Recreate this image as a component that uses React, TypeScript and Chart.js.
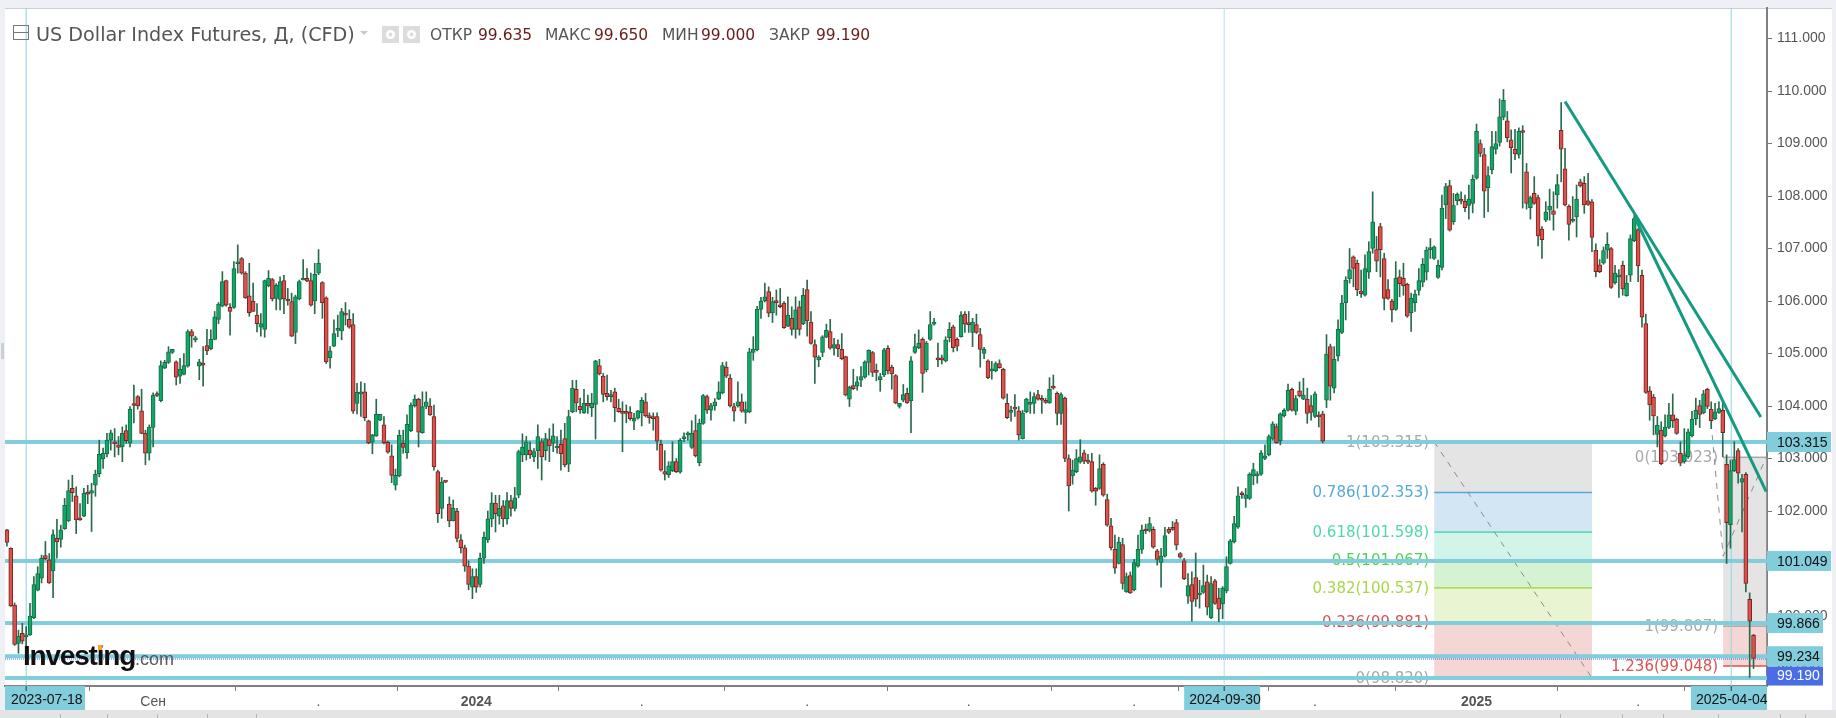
import React, { useEffect, useRef } from "react";
import { Chart, registerables } from "chart.js";

Chart.register(...registerables);

const opens = [
101.64,101.29,100.21,99.48,99.67,99.60,99.64,99.97,100.49,100.72,
101.15,101.07,100.86,101.48,101.46,101.66,101.81,102.43,102.29,101.85,
101.90,102.36,102.34,102.49,102.71,102.99,103.09,103.35,103.31,103.26,
103.22,103.53,103.29,104.03,104.18,103.91,103.48,103.10,103.59,104.23,
104.10,104.72,104.83,105.02,104.84,104.57,104.60,104.76,105.42,105.26,
104.76,104.79,105.15,105.09,105.27,105.65,105.90,106.39,105.88,105.88,
106.71,106.81,106.53,106.10,106.00,105.73,105.50,105.46,106.29,106.41,
106.05,106.03,106.39,106.03,105.99,105.40,106.04,106.40,106.43,106.39,
106.00,106.53,106.35,106.06,104.92,105.14,105.44,105.43,105.76,105.65,
105.55,104.05,104.23,104.27,103.72,103.31,103.43,103.73,103.64,103.31,
103.05,102.49,102.67,103.29,103.11,103.53,104.00,104.13,103.49,103.99,
104.00,103.80,102.75,102.05,102.56,102.13,101.81,102.00,101.45,101.30,
100.95,100.55,100.75,100.60,101.10,101.45,101.85,102.15,101.90,102.10,
101.85,102.20,102.05,102.30,103.07,103.07,103.16,103.03,103.15,103.32,
103.15,103.36,103.29,103.20,103.27,103.38,102.89,103.89,104.32,104.00,
103.87,104.05,103.97,104.03,104.77,104.57,104.24,104.18,104.27,103.96,
103.88,103.88,103.88,103.71,103.77,103.87,104.08,103.80,103.80,103.80,
103.27,102.75,102.69,102.77,102.94,102.74,103.38,103.45,103.21,103.53,
102.92,103.67,104.18,103.92,104.00,104.13,104.25,104.74,104.53,103.99,
104.00,104.08,103.88,103.89,105.02,105.07,105.84,106.00,106.18,105.78,
106.00,105.92,105.96,105.52,105.67,105.46,105.89,105.57,106.22,105.60,
105.17,104.88,105.02,105.31,105.42,105.10,105.17,105.08,104.94,104.13,
104.39,104.38,104.49,104.55,104.83,105.02,104.65,104.50,104.59,105.10,
104.74,104.58,103.99,104.11,104.24,104.10,105.02,105.11,105.27,104.69,
105.27,105.56,104.90,104.89,104.86,105.30,105.51,105.27,105.32,105.75,
105.57,105.40,105.55,105.36,105.00,104.86,104.67,104.67,104.81,104.70,
104.05,103.88,103.95,103.91,103.38,103.89,104.03,104.05,104.22,104.12,
104.10,104.06,104.37,104.24,103.86,104.15,103.00,102.67,102.75,102.93,
103.11,102.96,102.94,102.43,102.43,102.89,102.22,101.72,101.27,101.00,
101.36,100.46,100.77,100.50,100.95,101.27,101.65,101.63,101.65,101.24,
101.02,101.14,101.65,101.67,101.78,101.19,101.05,100.38,100.60,100.73,
100.40,100.45,100.65,99.97,100.67,100.34,100.23,100.48,101.00,101.41,
101.69,102.32,102.24,102.24,102.67,102.67,102.70,103.00,103.07,103.37,
103.61,103.34,103.81,103.92,104.32,103.90,104.29,104.13,104.13,104.01,
103.80,103.81,103.85,104.11,105.13,104.34,104.95,105.40,105.97,106.42,
106.84,106.72,106.19,106.11,106.55,107.00,106.98,107.42,106.81,106.22,
106.00,105.84,106.46,106.43,106.32,105.78,105.97,106.20,106.36,106.55,
106.98,106.81,106.45,106.64,107.83,108.20,107.51,107.91,107.94,107.90,
107.82,107.86,108.34,109.00,108.79,108.16,108.50,108.89,109.02,109.50,
109.43,109.07,108.89,108.79,109.24,108.46,107.78,108.05,107.97,107.37,
107.54,107.73,107.72,108.02,109.25,108.52,107.81,107.52,107.60,108.27,
108.24,107.91,107.89,106.97,106.69,106.72,106.97,107.00,106.35,106.46,
106.68,106.10,106.49,107.15,107.36,106.49,105.57,104.29,104.17,103.46,
103.54,103.43,103.59,103.83,103.75,103.10,102.94,103.03,103.43,103.76,
104.01,103.87,104.32,103.94,103.76,103.88,103.92,102.89,101.74,102.77,
103.15,102.55,102.70,100.32,99.635,
];

const closes = [
101.40,100.19,99.46,99.62,99.52,99.64,100.00,100.60,100.81,101.10,
101.09,100.63,101.55,101.41,101.64,102.11,102.39,102.35,101.83,101.83,
102.34,102.32,102.39,102.70,103.08,103.10,103.35,103.49,103.28,103.21,
103.48,103.34,103.94,104.01,104.00,103.48,103.10,103.60,104.21,104.20,
104.77,104.83,105.03,105.08,104.55,104.70,104.77,105.42,105.33,105.30,
104.84,104.78,105.05,105.27,105.70,105.94,106.37,105.92,105.80,106.62,
106.72,106.53,106.06,105.78,105.80,105.57,105.57,106.39,106.43,106.04,
106.30,106.37,106.04,106.00,105.33,106.08,106.37,106.42,106.38,105.92,
106.51,106.72,105.97,104.84,105.05,105.38,105.46,105.80,105.73,105.50,
103.90,104.26,104.25,103.78,103.30,103.45,103.84,103.84,103.30,103.12,
102.68,102.68,103.44,103.21,103.65,104.02,104.13,103.50,103.99,104.08,
103.83,102.84,101.95,102.55,102.55,101.81,102.05,101.48,101.30,100.95,
100.60,100.75,100.55,101.10,101.50,101.85,102.15,101.95,102.05,101.85,
102.20,102.05,102.25,103.13,103.22,103.32,103.07,103.13,103.42,103.03,
103.38,103.24,103.43,103.22,103.09,102.88,103.80,104.34,104.06,103.93,
104.05,104.00,104.05,104.86,104.61,104.22,104.18,104.20,103.97,103.89,
103.86,103.86,103.76,103.77,103.91,104.11,103.81,103.78,103.76,103.33,
102.78,102.70,102.86,102.94,102.75,103.35,103.41,103.46,103.48,103.05,
103.67,104.20,103.92,104.01,104.08,104.27,104.77,104.57,104.00,103.90,
104.08,103.90,103.93,105.03,105.08,105.84,106.00,106.08,105.77,105.99,
105.97,105.89,105.49,105.73,105.46,105.83,105.46,106.11,105.62,105.19,
104.93,104.93,105.32,105.44,105.10,105.17,105.09,104.90,104.21,104.36,
104.33,104.46,104.56,104.84,105.06,104.64,104.64,104.56,105.07,104.67,
104.61,104.06,104.05,104.22,104.06,104.86,105.13,105.20,104.62,105.20,
105.55,105.58,104.88,104.88,105.26,105.46,105.11,105.14,105.73,105.56,
105.55,105.60,105.40,105.08,105.08,104.54,104.68,104.81,104.73,104.15,
103.78,103.89,103.94,103.45,103.87,104.13,104.05,104.18,104.13,104.11,
104.07,104.32,104.34,103.86,104.22,103.00,102.48,102.78,103.00,103.03,
102.95,102.93,102.38,102.38,102.81,102.30,101.73,101.30,100.91,101.41,
100.62,100.75,100.44,101.02,101.27,101.63,101.62,101.76,101.31,101.08,
101.14,101.53,101.59,101.65,101.35,101.12,100.71,100.58,100.28,100.32,
100.43,100.58,100.17,100.62,100.24,100.13,100.53,100.94,101.43,101.76,
102.29,102.31,102.31,102.70,102.79,102.69,103.11,103.05,103.42,103.66,
103.30,103.85,103.92,104.30,103.92,104.14,104.19,104.21,103.86,103.88,
104.23,103.79,103.33,104.99,104.38,104.89,105.46,105.96,106.40,106.60,
106.62,106.21,106.14,106.62,106.94,107.51,106.76,106.98,106.05,106.05,
105.83,106.43,106.33,106.29,105.71,106.05,106.13,106.39,106.70,106.97,
107.00,107.03,106.68,107.77,108.18,107.35,107.82,108.03,107.90,107.78,
107.94,108.32,109.23,108.81,108.09,108.39,108.94,109.00,109.51,109.82,
109.11,108.92,108.80,109.23,109.21,107.86,107.97,107.86,107.24,107.17,
107.70,107.81,107.65,108.22,108.89,107.83,107.46,107.55,107.94,108.19,
107.83,107.84,107.21,106.56,106.56,106.96,107.08,106.26,106.53,106.50,
106.23,106.34,107.19,107.57,106.67,105.69,104.26,104.02,103.81,103.63,
102.90,103.60,103.83,103.72,103.48,102.91,103.07,103.51,103.75,103.92,
103.84,104.23,103.99,103.72,103.89,103.95,103.49,101.78,102.77,102.98,
102.72,102.62,100.62,99.90,99.19,
];

const highs = [
101.65,101.30,100.25,99.73,99.86,99.80,100.24,100.75,100.94,101.16,
101.42,101.19,101.64,101.84,101.73,102.24,102.59,102.68,102.46,102.14,
102.43,102.49,102.53,102.78,103.35,103.20,103.48,103.54,103.57,103.42,
103.60,103.64,103.99,104.40,104.20,104.32,103.54,103.64,104.25,104.27,
104.86,104.87,105.13,105.08,104.86,104.91,105.00,105.45,105.46,105.33,
104.89,105.13,105.46,105.45,105.80,105.97,106.56,106.40,105.95,106.75,
107.07,106.83,106.56,106.72,106.34,105.95,105.76,106.40,106.58,106.43,
106.33,106.46,106.49,106.24,106.15,106.11,106.40,106.79,106.62,106.53,
106.72,106.98,106.37,106.08,105.13,105.64,105.73,105.86,105.97,105.83,
105.76,104.43,104.46,104.43,103.73,103.46,104.13,103.84,103.80,103.33,
103.26,102.80,103.54,103.54,103.83,104.06,104.21,104.15,104.27,104.27,
104.14,104.02,102.78,102.64,102.57,102.27,102.21,102.05,101.55,101.35,
101.05,100.90,100.90,101.20,101.60,102.00,102.35,102.30,102.30,102.20,
102.35,102.30,102.45,103.16,103.47,103.42,103.32,103.19,103.64,103.38,
103.48,103.57,103.66,103.42,103.54,103.67,103.92,104.49,104.49,104.15,
104.32,104.21,104.24,104.87,104.89,104.62,104.59,104.30,104.34,104.13,
104.08,104.02,103.99,103.86,103.92,104.16,104.24,103.87,103.87,103.87,
103.35,103.15,102.94,103.32,103.00,103.38,103.49,103.51,103.72,103.83,
103.75,104.22,104.21,104.05,104.14,104.46,104.83,104.84,104.60,104.05,
104.46,104.23,104.08,105.10,105.32,105.90,106.07,106.34,106.27,106.07,
106.21,106.24,105.99,106.08,105.89,106.08,106.00,106.24,106.40,105.80,
105.26,104.96,105.34,105.56,105.65,105.29,105.26,105.38,104.95,104.38,
104.70,104.56,104.75,104.86,105.07,105.04,104.80,104.62,105.10,105.15,
104.78,104.60,104.02,104.41,104.34,104.94,105.37,105.45,105.30,105.23,
105.80,105.67,105.20,104.97,105.32,105.59,105.54,105.30,105.80,105.80,
105.80,105.67,105.75,105.48,105.12,104.88,104.85,104.84,104.88,104.72,
104.23,104.00,104.22,103.99,103.92,104.15,104.27,104.25,104.30,104.20,
104.15,104.54,104.59,104.27,104.25,104.17,103.07,102.97,103.17,103.36,
103.16,103.08,103.10,102.45,103.07,102.92,102.32,101.86,101.54,101.50,
101.48,100.82,100.84,101.08,101.54,101.73,101.75,101.88,101.70,101.27,
101.29,101.69,101.69,101.80,101.84,101.21,101.10,100.81,100.84,101.20,
100.68,100.97,100.78,100.75,100.70,100.53,100.56,101.13,101.46,101.90,
102.46,102.37,102.43,102.73,102.91,102.75,103.15,103.26,103.45,103.70,
103.66,103.87,103.95,104.42,104.34,104.20,104.46,104.53,104.34,104.20,
104.27,103.89,103.90,105.36,105.18,105.13,105.64,106.11,106.46,107.00,
106.86,106.78,106.59,106.88,107.13,108.08,107.23,107.48,106.91,106.41,
106.03,106.75,106.59,106.72,106.34,106.15,106.21,106.62,106.81,107.03,
107.19,107.05,106.78,108.02,108.24,108.30,108.05,108.06,108.08,108.02,
108.21,108.40,109.37,109.07,108.91,108.56,109.23,109.23,109.85,110.03,
109.61,109.26,109.27,109.30,109.34,108.62,108.00,108.37,108.02,107.42,
107.89,108.13,108.08,108.41,109.78,108.91,107.83,107.99,108.21,108.32,
108.37,108.43,107.93,107.09,106.79,107.03,107.30,107.02,106.68,106.60,
106.76,106.49,107.26,107.64,107.38,106.59,105.75,104.37,104.22,103.80,
103.70,103.83,104.05,104.23,103.77,103.32,103.57,103.56,103.90,104.15,
104.11,104.30,104.34,104.08,104.05,104.08,104.06,103.07,102.97,103.32,
103.19,102.70,102.73,100.44,99.65,
];

const lows = [
101.33,100.18,99.44,99.29,99.47,99.41,99.63,99.95,100.48,100.63,
101.07,100.62,100.35,101.10,101.31,101.65,101.80,102.18,101.57,101.82,
101.89,102.14,101.61,102.28,102.65,102.81,103.03,103.16,103.03,103.07,
102.94,103.29,103.22,103.68,103.94,103.47,102.88,102.97,103.22,104.18,
104.08,104.71,104.81,105.00,104.40,104.43,104.59,104.74,105.12,105.22,
104.50,104.38,104.98,105.07,105.26,105.57,105.89,105.90,105.35,105.86,
106.53,106.51,106.05,105.71,105.80,105.41,105.33,105.31,106.27,106.00,
105.83,105.83,105.76,105.92,105.32,105.19,106.02,106.40,106.37,105.90,
105.76,106.50,105.67,104.81,104.72,105.13,105.32,105.26,105.54,105.48,
103.86,103.85,103.80,103.72,103.28,103.09,103.42,103.72,103.28,103.10,
102.54,102.40,102.65,103.10,103.00,103.51,103.98,103.22,103.48,103.95,
103.82,102.78,101.78,101.86,102.54,101.70,102.04,101.41,101.20,100.85,
100.50,100.33,100.45,100.55,101.00,101.40,101.70,101.60,101.75,101.70,
101.75,101.90,102.00,102.25,102.94,102.97,103.00,102.94,102.81,102.59,
102.97,102.94,103.13,103.10,102.78,102.84,102.75,103.87,103.89,103.86,
103.86,103.86,103.80,103.37,104.59,104.08,104.11,104.08,103.70,103.88,
103.13,103.68,103.73,103.55,103.75,103.62,103.79,103.67,103.54,103.16,
102.76,102.59,102.64,102.75,102.73,102.72,103.32,103.35,103.19,103.03,
102.86,103.65,103.86,103.73,103.92,104.12,104.23,104.54,103.98,103.71,
103.98,103.88,103.67,103.87,104.87,105.05,105.67,105.98,105.70,105.59,
105.73,105.87,105.48,105.51,105.35,105.29,105.35,105.55,105.33,105.18,
104.43,104.75,104.94,105.30,105.08,104.97,104.94,104.88,104.19,103.99,
104.31,104.30,104.37,104.53,104.59,104.56,104.48,104.28,104.56,104.61,
104.32,104.04,103.96,104.08,104.05,103.49,105.00,105.09,104.26,104.65,
105.25,105.54,104.75,104.80,104.84,105.22,105.03,105.05,105.31,105.40,
105.40,105.13,105.38,104.74,104.90,104.52,104.51,104.65,104.72,104.13,
103.76,103.71,103.80,103.35,103.37,103.87,103.86,103.86,104.11,103.86,
104.05,104.05,104.32,103.64,103.65,102.94,102.00,102.51,102.73,102.91,
102.90,102.90,102.36,102.11,102.41,102.28,101.71,101.26,100.81,100.99,
100.51,100.45,100.43,100.48,100.93,101.19,101.57,101.60,101.29,100.97,
100.55,101.12,101.57,101.63,101.26,101.10,100.69,100.24,99.90,100.18,
100.15,100.43,100.02,99.95,100.22,99.89,99.95,100.44,100.99,101.39,
101.67,102.24,102.07,102.22,102.50,102.53,102.68,102.98,103.05,103.35,
103.29,103.26,103.79,103.90,103.90,103.83,104.17,104.12,103.67,103.73,
103.78,103.60,103.30,103.97,104.11,104.25,104.86,105.38,105.64,106.34,
106.27,106.10,106.07,106.09,106.43,106.91,106.56,106.46,105.83,106.03,
105.60,105.82,106.08,106.11,105.69,105.42,105.80,106.11,106.27,106.40,
106.81,106.79,106.43,106.59,107.57,107.33,107.46,107.83,107.85,107.70,
107.56,107.68,108.32,108.75,107.59,107.70,108.42,108.80,108.95,109.45,
109.03,108.44,108.69,108.72,107.77,107.75,107.56,107.84,107.05,106.81,
107.51,107.54,107.35,107.77,108.27,107.81,107.16,107.50,107.22,108.17,
107.67,107.82,106.94,106.46,106.54,106.70,106.81,106.24,106.32,106.07,
106.11,106.09,106.37,107.13,106.37,105.50,104.24,103.73,103.45,103.22,
102.88,103.41,103.57,103.59,103.46,102.86,102.91,103.00,103.41,103.64,
103.59,103.85,103.95,103.57,103.74,103.86,103.03,101.00,101.29,102.75,
102.53,101.60,100.46,98.83,99.00,
];

const SLOTS = 458;
const slotLabels = Array.from({ length: SLOTS }, (_, i) => String(i));

const tickSlots = [5, 38, 81, 122, 165, 208, 250, 293, 316, 340, 382, 424, 448];
const tickTexts = ["", "Сен", ".", "2024", ".", ".", ".", ".", "", ".", "2025", ".", ""];
const boldTickTexts = ["2024", "2025"];

const crossSlots = [5, 316.4, 448.2];
const crossDates = ["2023-07-18", "2024-09-30", "2025-04-04"];
const crossColors = ["#86d3df", "#b0e3ea", "#8ed6e2"];

const levelValues = [103.315, 101.049, 99.866, 99.234, 98.82];
const levelTags = ["103.315", "101.049", "99.866", "99.234", ""];
const lastPrice = 99.19;

const fibAValues = [103.315, 102.353, 101.598, 101.067, 100.537, 99.881, 98.82];
const fibALabels = ["1(103.315)", "0.786(102.353)", "0.618(101.598)", "0.5(101.067)", "0.382(100.537)", "0.236(99.881)", "0(98.820)"];
const fibAColors = ["#a8a8a8", "#57a9dc", "#4fd8ae", "#4fd24f", "#a6d84c", "#d9534f", "#a8a8a8"];
const fibAFills = ["#e4e4e4", "#d2e6f3", "#d3f4e8", "#d5f3d3", "#e9f4d2", "#f4d6d4"];
const fibASlots = [371, 412];
const fibBValues = [103.023, 99.807, 99.048];
const fibBLabels = ["0(103.023)", "1(99.807)", "1.236(99.048)"];
const fibBColors = ["#a8a8a8", "#a8a8a8", "#d9534f"];
const fibBFills = ["#e4e4e4", "#f4d6d4"];
const fibBSlots = [446.1, 457.3];

const trendSlotsA = [405.0, 455.9];
const trendValuesA = [109.8, 103.79];
const trendSlotsB = [423.1, 457.3];
const trendValuesB = [107.6, 102.37];
const dashSlotsA = [371, 412];
const dashValuesA = [103.315, 98.82];
const dashSlotsB = [442.7, 446.1, 457.3];
const dashValuesB = [103.9, 101.14, 103.023];

const UI = '"Liberation Sans", Arial, sans-serif';
const FIB = '"DejaVu Sans", sans-serif';

const paint = {
  id: "paint",
  beforeDraw(c: any) {
    const g = c.ctx;
    g.save();
    g.fillStyle = "#ffffff";
    g.fillRect(0, 0, 1836, 718);
    g.fillStyle = "#eff0f6";
    g.fillRect(0, 0, 1836, 8);
    g.fillRect(0, 0, 5, 718);
    g.fillRect(1832, 0, 4, 718);
    g.fillStyle = "#ccced6";
    g.fillRect(5, 8, 1827, 1);
    g.fillRect(1, 343, 3, 16);
    g.fillStyle = "#e4e4e4";
    g.fillRect(0, 710, 1836, 8);
    g.fillStyle = "#b8b8b8";
    [60, 107, 157, 207, 256, 1560, 1622, 1663, 1718, 1780, 1805].forEach((x) => g.fillRect(x, 714, 1, 4));
    g.restore();
  },
  beforeDatasetsDraw(c: any) {
    const g = c.ctx;
    const x = c.scales.x;
    const y = c.scales.y;
    const a = c.chartArea;
    g.save();

    const xa0 = x.getPixelForValue(fibASlots[0]);
    const xa1 = x.getPixelForValue(fibASlots[1]);
    fibAFills.forEach((f, i) => {
      const t = y.getPixelForValue(fibAValues[i]);
      const b = y.getPixelForValue(fibAValues[i + 1]);
      g.fillStyle = f;
      g.fillRect(xa0, t, xa1 - xa0, b - t);
    });
    fibAValues.forEach((v, i) => {
      const p = y.getPixelForValue(v);
      g.fillStyle = fibAColors[i];
      g.fillRect(xa0, p - 0.75, xa1 - xa0, 1.5);
      g.font = `15px ${FIB}`;
      g.textAlign = "right";
      g.textBaseline = "middle";
      g.fillText(fibALabels[i], xa0 - 5, p + 1);
    });

    const xb0 = x.getPixelForValue(fibBSlots[0]);
    const xb1 = x.getPixelForValue(fibBSlots[1]);
    fibBFills.forEach((f, i) => {
      const t = y.getPixelForValue(fibBValues[i]);
      const b = y.getPixelForValue(fibBValues[i + 1]);
      g.fillStyle = f;
      g.fillRect(xb0, t, xb1 - xb0, b - t);
    });
    fibBValues.forEach((v, i) => {
      const p = y.getPixelForValue(v);
      g.fillStyle = fibBColors[i];
      g.fillRect(xb0, p - 0.75, xb1 - xb0, 1.5);
      g.font = `15px ${FIB}`;
      g.textAlign = "right";
      g.textBaseline = "middle";
      g.fillText(fibBLabels[i], xb0 - 5, p + 1);
    });

    const dash = (sl: number[], va: number[]) => {
      g.beginPath();
      sl.forEach((s, i) => {
        const px = x.getPixelForValue(s);
        const py = y.getPixelForValue(va[i]);
        if (i === 0) g.moveTo(px, py);
        else g.lineTo(px, py);
      });
      g.strokeStyle = "#8c8c8c";
      g.lineWidth = 1;
      g.setLineDash([6, 6]);
      g.stroke();
      g.setLineDash([]);
    };
    dash(dashSlotsA, dashValuesA);
    dash(dashSlotsB, dashValuesB);

    crossSlots.forEach((s, i) => {
      g.fillStyle = crossColors[i];
      g.fillRect(x.getPixelForValue(s) - 0.5, a.top, 1, a.bottom - a.top);
    });

    levelValues.forEach((v) => {
      g.fillStyle = "#82cddc";
      g.fillRect(a.left, y.getPixelForValue(v) - 2, a.right - a.left, 4);
    });

    const lp = y.getPixelForValue(lastPrice);
    g.strokeStyle = "#4a6de5";
    g.lineWidth = 1;
    g.setLineDash([1, 1]);
    g.beginPath();
    g.moveTo(a.left, lp + 0.5);
    g.lineTo(a.right, lp + 0.5);
    g.stroke();
    g.setLineDash([]);
    g.restore();
  },
  afterDraw(c: any) {
    const g = c.ctx;
    const x = c.scales.x;
    const y = c.scales.y;
    const a = c.chartArea;
    g.save();

    const trend = (sl: number[], va: number[]) => {
      g.beginPath();
      g.moveTo(x.getPixelForValue(sl[0]), y.getPixelForValue(va[0]));
      g.lineTo(x.getPixelForValue(sl[1]), y.getPixelForValue(va[1]));
      g.strokeStyle = "#149a80";
      g.lineWidth = 3;
      g.stroke();
    };
    trend(trendSlotsA, trendValuesA);
    trend(trendSlotsB, trendValuesB);

    g.font = `14px ${UI}`;
    g.textBaseline = "middle";
    levelValues.forEach((v, i) => {
      if (!levelTags[i]) return;
      const p = y.getPixelForValue(v);
      const w = i < 2 ? 64 : 56;
      g.fillStyle = "#82cddc";
      g.fillRect(a.right, p - 10, w, 20);
      g.fillStyle = "#111111";
      g.textAlign = "left";
      g.fillText(levelTags[i], a.right + 10, p + 1);
    });
    const lp = y.getPixelForValue(lastPrice);
    g.fillStyle = "#4a6de5";
    g.fillRect(a.right, lp + 8, 56, 19);
    g.fillStyle = "#ffffff";
    g.textAlign = "left";
    g.fillText(lastPrice.toFixed(3), a.right + 10, lp + 18);

    crossSlots.forEach((s, i) => {
      const px = x.getPixelForValue(s);
      const l = Math.max(a.left, Math.min(px - 40, a.right - 76));
      const w = i === 2 ? a.right - l : i === 0 ? 80 : 76;
      g.fillStyle = "#82cddc";
      g.fillRect(l, a.bottom, w, 24);
      g.fillStyle = "#333";
      g.fillRect(px - 0.5, a.bottom, 1, 5);
      g.fillStyle = "#111111";
      g.textAlign = "left";
      g.fillText(crossDates[i], i === 0 ? 11 : l + 5, a.bottom + 14);
    });

    g.textBaseline = "alphabetic";
    g.textAlign = "left";
    g.strokeStyle = "#777";
    g.lineWidth = 1;
    g.strokeRect(13.5, 25.5, 15, 14);
    g.beginPath();
    g.moveTo(14, 32.5);
    g.lineTo(28, 32.5);
    g.stroke();
    g.fillStyle = "#555555";
    g.font = `19.2px "DejaVu Sans", sans-serif`;
    g.fillText("US Dollar Index Futures, Д, (CFD)", 36, 41);
    g.fillStyle = "#c9c9c9";
    g.beginPath();
    g.moveTo(360, 31);
    g.lineTo(368, 31);
    g.lineTo(364, 35);
    g.fill();
    g.fillStyle = "#dcdcdc";
    g.fillRect(382, 26, 17, 17);
    g.fillRect(403, 26, 17, 17);
    g.fillStyle = "#ffffff";
    g.beginPath();
    g.arc(390.5, 34.5, 4.5, 0, Math.PI * 2);
    g.arc(411.5, 34.5, 4.5, 0, Math.PI * 2);
    g.fill();
    g.fillStyle = "#dcdcdc";
    g.beginPath();
    g.arc(390.5, 34.5, 2, 0, Math.PI * 2);
    g.arc(411.5, 34.5, 2, 0, Math.PI * 2);
    g.fill();

    g.font = `15.5px "DejaVu Sans", sans-serif`;
    const heads = [["ОТКР", "99.635", 430, 478], ["МАКС", "99.650", 545, 594], ["МИН", "99.000", 662, 701], ["ЗАКР", "99.190", 769, 816]];
    heads.forEach((h: any) => {
      g.fillStyle = "#555555";
      g.fillText(h[0], h[2], 40);
      g.fillStyle = "#6b1a1a";
      g.fillText(h[1], h[3], 40);
    });

    g.fillStyle = "#111111";
    g.font = `bold 28px ${UI}`;
    g.letterSpacing = "-1.2px";
    g.fillText("Investing", 23, 665);
    g.letterSpacing = "0px";
    g.fillStyle = "#5a5a5a";
    g.font = `18px ${UI}`;
    g.fillText(".com", 135, 665);
    g.fillStyle = "#f5a623";
    g.fillRect(98, 645, 4, 5);
    g.restore();
  },
};

export default function App() {
  const ref = useRef<HTMLCanvasElement | null>(null);
  useEffect(() => {
    document.body.style.margin = "0";
    const up = (i: number) => closes[i] >= opens[i];
    const chart = new Chart(ref.current as any, {
      type: "bar",
      data: {
        labels: slotLabels,
        datasets: [
          {
            label: "body",
            data: opens.map((o, i) => [Math.min(o, closes[i]), Math.max(o, closes[i])]) as any,
            backgroundColor: opens.map((_, i) => (up(i) ? "#0fa866" : "#d9534a")),
            borderColor: opens.map((_, i) => (up(i) ? "#1a6a48" : "#7c2222")),
            borderWidth: 1,
            borderSkipped: false,
            barThickness: 4,
            minBarLength: 2,
            grouped: false,
          } as any,
          {
            label: "wick",
            data: lows.map((l, i) => [Math.min(l, opens[i], closes[i]), Math.max(highs[i], opens[i], closes[i])]) as any,
            backgroundColor: "#2a6a4c",
            borderWidth: 0,
            barThickness: 1,
            grouped: false,
          } as any,
        ],
      },
      options: {
        responsive: false,
        animation: false,
        layout: { padding: { left: 5, top: 8, right: 0, bottom: 0 } },
        plugins: { legend: { display: false }, tooltip: { enabled: false }, title: { display: false } },
        scales: {
          x: {
            type: "category",
            offset: true,
            afterBuildTicks: (s: any) => {
              s.ticks = s.ticks.filter((t: any) => tickSlots.includes(t.value));
            },
            afterFit: (s: any) => {
              s.height = 32;
              s.paddingLeft = 0;
              s.paddingRight = 0;
            },
            grid: { drawOnChartArea: false, tickLength: 5, tickColor: "#777777" },
            border: { color: "#808080", width: 2 },
            ticks: {
              autoSkip: false,
              maxRotation: 0,
              padding: 3,
              color: "#555555",
              callback: (v: any) => {
                const k = tickSlots.indexOf(Number(v));
                return k < 0 ? "" : tickTexts[k];
              },
              font: (ctx: any) => {
                const k = ctx.tick ? tickSlots.indexOf(ctx.tick.value) : -1;
                return { family: UI, size: 14, weight: k >= 0 && boldTickTexts.includes(tickTexts[k]) ? "bold" : "normal" };
              },
            },
          } as any,
          y: {
            position: "right",
            min: 98.667,
            max: 111.581,
            afterFit: (s: any) => {
              s.width = 69;
              s.paddingTop = 0;
              s.paddingBottom = 0;
            },
            grid: { drawOnChartArea: false, tickLength: 5, tickColor: "#777777" },
            border: { color: "#808080", width: 2 },
            ticks: {
              stepSize: 1,
              includeBounds: false,
              autoSkip: false,
              padding: 5,
              color: "#555555",
              font: { family: UI, size: 14 },
              callback: (v: any) => Number(v).toFixed(3),
            },
          } as any,
        },
      },
      plugins: [paint as any],
    });
    return () => chart.destroy();
  }, []);
  return <canvas ref={ref} width={1836} height={718} style={{ display: "block" }} />;
}
